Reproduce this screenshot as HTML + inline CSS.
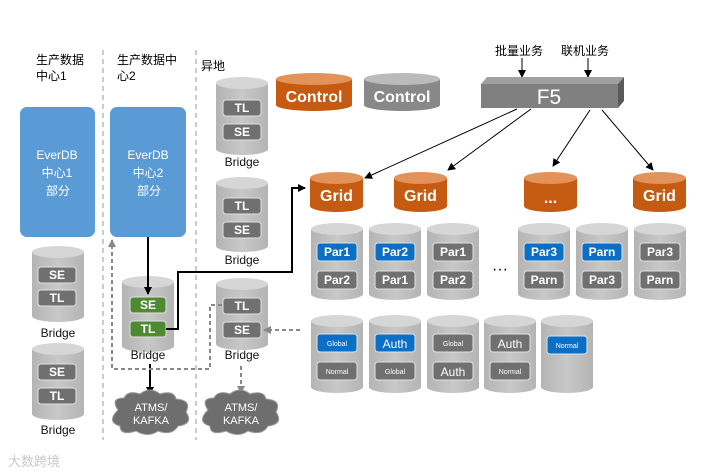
<!DOCTYPE html>
<html><head><meta charset="utf-8"><style>
body{margin:0;background:#fff;}
svg{display:block;font-family:"Liberation Sans","Noto Sans CJK SC",sans-serif;}
.cb{fill:url(#g);} .ct{fill:#d6d6d6;}
.ob{fill:#c55a11;} .ot{fill:#e3925a;}
.ch{fill:#707070;stroke:#e0e0e0;stroke-width:1;}
.bl{fill:#0b6fc6;stroke:#e0e0e0;stroke-width:1;}
.gr{fill:#4e8a30;stroke:#e0e0e0;stroke-width:1;}
.t{fill:#fff;font-weight:bold;font-size:12px;text-anchor:middle;}
.s{fill:#fff;font-size:7px;text-anchor:middle;}
.lb{fill:#111;font-size:12px;text-anchor:middle;}
.cn{fill:#000;font-size:12px;}
</style></head><body>
<svg width="720" height="475" viewBox="0 0 720 475">
<defs>
<linearGradient id="g" x1="0" x2="1"><stop offset="0" stop-color="#b4b4b4"/><stop offset="0.5" stop-color="#c8c8c8"/><stop offset="1" stop-color="#b4b4b4"/></linearGradient>
<marker id="a" markerWidth="8" markerHeight="8" refX="7" refY="4" orient="auto" markerUnits="userSpaceOnUse"><path d="M0,0 L8,4 L0,8 z" fill="#000"/></marker>
<marker id="ag" markerWidth="8" markerHeight="8" refX="7" refY="4" orient="auto" markerUnits="userSpaceOnUse"><path d="M0,0 L8,4 L0,8 z" fill="#888"/></marker>
</defs>

<line x1="103" y1="50" x2="103" y2="440" stroke="#999" stroke-dasharray="5,4"/>
<line x1="196" y1="50" x2="196" y2="440" stroke="#999" stroke-dasharray="5,4"/>

<text class="cn" x="36" y="64">生产数据</text><text class="cn" x="36" y="80">中心1</text>
<text class="cn" x="117" y="64">生产数据中</text><text class="cn" x="117" y="80">心2</text>
<text class="cn" x="201" y="70">异地</text>

<rect x="20" y="107" width="75" height="130" rx="7" fill="#5b9bd5"/>
<rect x="110" y="107" width="76" height="130" rx="7" fill="#5b9bd5"/>
<g fill="#fff" font-size="12" text-anchor="middle">
<text x="57" y="159">EverDB</text><text x="57" y="177">中心1</text><text x="58" y="195">部分</text>
<text x="148" y="159">EverDB</text><text x="148" y="177">中心2</text><text x="149" y="195">部分</text>
</g>

<path class="cb" d="M32,252 L32,316 A26,6 0 0 0 84,316 L84,252 Z"/><ellipse class="ct" cx="58" cy="252" rx="26" ry="6"/>
<rect class="ch" x="38" y="267" width="38" height="16" rx="3"/><text class="t" x="57" y="279">SE</text>
<rect class="ch" x="38" y="290" width="38" height="16" rx="3"/><text class="t" x="57" y="302">TL</text>
<text class="lb" x="58" y="337">Bridge</text>
<path class="cb" d="M32,349 L32,414 A26,6 0 0 0 84,414 L84,349 Z"/><ellipse class="ct" cx="58" cy="349" rx="26" ry="6"/>
<rect class="ch" x="38" y="364" width="38" height="16" rx="3"/><text class="t" x="57" y="376">SE</text>
<rect class="ch" x="38" y="388" width="38" height="16" rx="3"/><text class="t" x="57" y="400">TL</text>
<text class="lb" x="58" y="434">Bridge</text>

<path class="cb" d="M122,282 L122,346 A26,6 0 0 0 174,346 L174,282 Z"/><ellipse class="ct" cx="148" cy="282" rx="26" ry="6"/>
<rect class="gr" x="130" y="297" width="36" height="16" rx="3"/><text class="t" x="148" y="309">SE</text>
<rect class="gr" x="130" y="321" width="36" height="16" rx="3"/><text class="t" x="148" y="333">TL</text>
<text class="lb" x="148" y="359">Bridge</text>

<path class="cb" d="M216,83 L216,149 A26,6 0 0 0 268,149 L268,83 Z"/><ellipse class="ct" cx="242" cy="83" rx="26" ry="6"/>
<rect class="ch" x="223" y="100" width="38" height="16" rx="3"/><text class="t" x="242" y="112">TL</text>
<rect class="ch" x="223" y="124" width="38" height="16" rx="3"/><text class="t" x="242" y="136">SE</text>
<text class="lb" x="242" y="166">Bridge</text>
<path class="cb" d="M216,183 L216,246 A26,6 0 0 0 268,246 L268,183 Z"/><ellipse class="ct" cx="242" cy="183" rx="26" ry="6"/>
<rect class="ch" x="223" y="198" width="38" height="16" rx="3"/><text class="t" x="242" y="210">TL</text>
<rect class="ch" x="223" y="222" width="38" height="16" rx="3"/><text class="t" x="242" y="234">SE</text>
<text class="lb" x="242" y="264">Bridge</text>
<path class="cb" d="M216,284 L216,344 A26,6 0 0 0 268,344 L268,284 Z"/><ellipse class="ct" cx="242" cy="284" rx="26" ry="6"/>
<rect class="ch" x="223" y="298" width="38" height="16" rx="3"/><text class="t" x="242" y="310">TL</text>
<rect class="ch" x="223" y="322" width="38" height="16" rx="3"/><text class="t" x="242" y="334">SE</text>
<text class="lb" x="242" y="359">Bridge</text>

<line x1="148" y1="237" x2="148" y2="294" stroke="#000" stroke-width="2" marker-end="url(#a)"/>
<polyline points="166,329 178,329 178,272 292,272 292,188 305,188" fill="none" stroke="#000" stroke-width="2" marker-end="url(#a)"/>
<line x1="150" y1="364" x2="150" y2="394" stroke="#000" stroke-width="2" marker-end="url(#a)"/>
<polyline points="222,305 210,305 210,369 112,369 112,240" fill="none" stroke="#888" stroke-width="2" stroke-dasharray="4,3" marker-end="url(#ag)"/>
<line x1="300" y1="330" x2="264" y2="330" stroke="#888" stroke-width="2" stroke-dasharray="4,3" marker-end="url(#ag)"/>
<line x1="241" y1="366" x2="241" y2="393" stroke="#888" stroke-width="2" stroke-dasharray="4,3" marker-end="url(#ag)"/>

<g fill="#6e6e6e" stroke="#999">
<path d="M118,410 Q110,398 124,398 Q128,390 140,394 Q150,386 160,394 Q174,390 176,399 Q192,400 186,412 Q194,424 178,426 Q172,436 158,431 Q148,438 136,431 Q120,436 120,426 Q106,422 118,410 Z"/>
<path d="M208,410 Q200,398 214,398 Q218,390 230,394 Q240,386 250,394 Q264,390 266,399 Q282,400 276,412 Q284,424 268,426 Q262,436 248,431 Q238,438 226,431 Q210,436 210,426 Q196,422 208,410 Z"/>
</g>
<g fill="#fff" font-size="11" text-anchor="middle">
<text x="151" y="411">ATMS/</text><text x="151" y="424">KAFKA</text>
<text x="241" y="411">ATMS/</text><text x="241" y="424">KAFKA</text>
</g>

<path class="ob" d="M276,79 L276,105 A38,6 0 0 0 352,105 L352,79 Z"/><ellipse class="ot" cx="314" cy="79" rx="38" ry="6"/>
<text class="t" x="314" y="102" style="font-size:16px">Control</text>
<path fill="#888" d="M364,79 L364,105 A38,6 0 0 0 440,105 L440,79 Z"/><ellipse fill="#bbb" cx="402" cy="79" rx="38" ry="6"/>
<text class="t" x="402" y="102" style="font-size:16px">Control</text>

<text class="cn" x="495" y="55" font-size="13">批量业务</text><text class="cn" x="561" y="55" font-size="13">联机业务</text>
<line x1="522" y1="58" x2="522" y2="77" stroke="#000" marker-end="url(#a)"/>
<line x1="588" y1="58" x2="588" y2="77" stroke="#000" marker-end="url(#a)"/>
<polygon points="481,84 487,77 624,77 618,84" fill="#a0a0a0"/>
<polygon points="618,84 624,77 624,101 618,108" fill="#5a5a5a"/>
<rect x="481" y="84" width="137" height="24" fill="#808080"/>
<text x="549" y="104" fill="#fff" font-size="21" text-anchor="middle">F5</text>
<g stroke="#000" stroke-width="1">
<line x1="517" y1="109" x2="365" y2="178" marker-end="url(#a)"/>
<line x1="531" y1="109" x2="448" y2="170" marker-end="url(#a)"/>
<line x1="590" y1="110" x2="553" y2="166" marker-end="url(#a)"/>
<line x1="602" y1="110" x2="653" y2="170" marker-end="url(#a)"/>
</g>

<g>
<path class="ob" d="M310,178 L310,206 A26.5,6 0 0 0 363,206 L363,178 Z"/><ellipse class="ot" cx="336.5" cy="178" rx="26.5" ry="6"/><text class="t" x="336.5" y="201" style="font-size:16px">Grid</text>
<path class="ob" d="M394,178 L394,206 A26.5,6 0 0 0 447,206 L447,178 Z"/><ellipse class="ot" cx="420.5" cy="178" rx="26.5" ry="6"/><text class="t" x="420.5" y="201" style="font-size:16px">Grid</text>
<path class="ob" d="M524,178 L524,206 A26.5,6 0 0 0 577,206 L577,178 Z"/><ellipse class="ot" cx="550.5" cy="178" rx="26.5" ry="6"/><text class="t" x="550.5" y="203" style="font-size:16px">...</text>
<path class="ob" d="M633,178 L633,206 A26.5,6 0 0 0 686,206 L686,178 Z"/><ellipse class="ot" cx="659.5" cy="178" rx="26.5" ry="6"/><text class="t" x="659.5" y="201" style="font-size:16px">Grid</text>
</g>

<g>
<path class="cb" d="M311,229 L311,294 A26,6 0 0 0 363,294 L363,229 Z"/><ellipse class="ct" cx="337" cy="229" rx="26" ry="6"/>
<rect class="bl" x="317" y="243" width="40" height="18" rx="3"/><text class="t" x="337" y="256">Par1</text>
<rect class="ch" x="317" y="271" width="40" height="18" rx="3"/><text class="t" x="337" y="284">Par2</text>
<path class="cb" d="M369,229 L369,294 A26,6 0 0 0 421,294 L421,229 Z"/><ellipse class="ct" cx="395" cy="229" rx="26" ry="6"/>
<rect class="bl" x="375" y="243" width="40" height="18" rx="3"/><text class="t" x="395" y="256">Par2</text>
<rect class="ch" x="375" y="271" width="40" height="18" rx="3"/><text class="t" x="395" y="284">Par1</text>
<path class="cb" d="M427,229 L427,294 A26,6 0 0 0 479,294 L479,229 Z"/><ellipse class="ct" cx="453" cy="229" rx="26" ry="6"/>
<rect class="ch" x="433" y="243" width="40" height="18" rx="3"/><text class="t" x="453" y="256">Par1</text>
<rect class="ch" x="433" y="271" width="40" height="18" rx="3"/><text class="t" x="453" y="284">Par2</text>
<text x="500" y="274" font-size="16" text-anchor="middle" fill="#000">···</text>
<path class="cb" d="M518,229 L518,294 A26,6 0 0 0 570,294 L570,229 Z"/><ellipse class="ct" cx="544" cy="229" rx="26" ry="6"/>
<rect class="bl" x="524" y="243" width="40" height="18" rx="3"/><text class="t" x="544" y="256">Par3</text>
<rect class="ch" x="524" y="271" width="40" height="18" rx="3"/><text class="t" x="544" y="284">Parn</text>
<path class="cb" d="M576,229 L576,294 A26,6 0 0 0 628,294 L628,229 Z"/><ellipse class="ct" cx="602" cy="229" rx="26" ry="6"/>
<rect class="bl" x="582" y="243" width="40" height="18" rx="3"/><text class="t" x="602" y="256">Parn</text>
<rect class="ch" x="582" y="271" width="40" height="18" rx="3"/><text class="t" x="602" y="284">Par3</text>
<path class="cb" d="M634,229 L634,294 A26,6 0 0 0 686,294 L686,229 Z"/><ellipse class="ct" cx="660" cy="229" rx="26" ry="6"/>
<rect class="ch" x="640" y="243" width="40" height="18" rx="3"/><text class="t" x="660" y="256">Par3</text>
<rect class="ch" x="640" y="271" width="40" height="18" rx="3"/><text class="t" x="660" y="284">Parn</text>
</g>

<g>
<path class="cb" d="M311,321 L311,387 A26,6 0 0 0 363,387 L363,321 Z"/><ellipse class="ct" cx="337" cy="321" rx="26" ry="6"/>
<rect class="bl" x="317" y="334" width="40" height="18" rx="3"/><text class="s" x="337" y="346">Global</text>
<rect class="ch" x="317" y="362" width="40" height="18" rx="3"/><text class="s" x="337" y="374">Normal</text>
<path class="cb" d="M369,321 L369,387 A26,6 0 0 0 421,387 L421,321 Z"/><ellipse class="ct" cx="395" cy="321" rx="26" ry="6"/>
<rect class="bl" x="375" y="334" width="40" height="18" rx="3"/><text x="395" y="348" fill="#fff" font-size="12" text-anchor="middle">Auth</text>
<rect class="ch" x="375" y="362" width="40" height="18" rx="3"/><text class="s" x="395" y="374">Global</text>
<path class="cb" d="M427,321 L427,387 A26,6 0 0 0 479,387 L479,321 Z"/><ellipse class="ct" cx="453" cy="321" rx="26" ry="6"/>
<rect class="ch" x="433" y="334" width="40" height="18" rx="3"/><text class="s" x="453" y="346">Global</text>
<rect class="ch" x="433" y="362" width="40" height="18" rx="3"/><text x="453" y="376" fill="#fff" font-size="12" text-anchor="middle">Auth</text>
<path class="cb" d="M484,321 L484,387 A26,6 0 0 0 536,387 L536,321 Z"/><ellipse class="ct" cx="510" cy="321" rx="26" ry="6"/>
<rect class="ch" x="490" y="334" width="40" height="18" rx="3"/><text x="510" y="348" fill="#fff" font-size="12" text-anchor="middle">Auth</text>
<rect class="ch" x="490" y="362" width="40" height="18" rx="3"/><text class="s" x="510" y="374">Normal</text>
<path class="cb" d="M541,321 L541,387 A26,6 0 0 0 593,387 L593,321 Z"/><ellipse class="ct" cx="567" cy="321" rx="26" ry="6"/>
<rect class="bl" x="547" y="336" width="40" height="18" rx="3"/><text class="s" x="567" y="348">Normal</text>
</g>

<text x="8" y="466" font-size="13" fill="#c8c8c8">大数跨境</text>
</svg>
</body></html>
